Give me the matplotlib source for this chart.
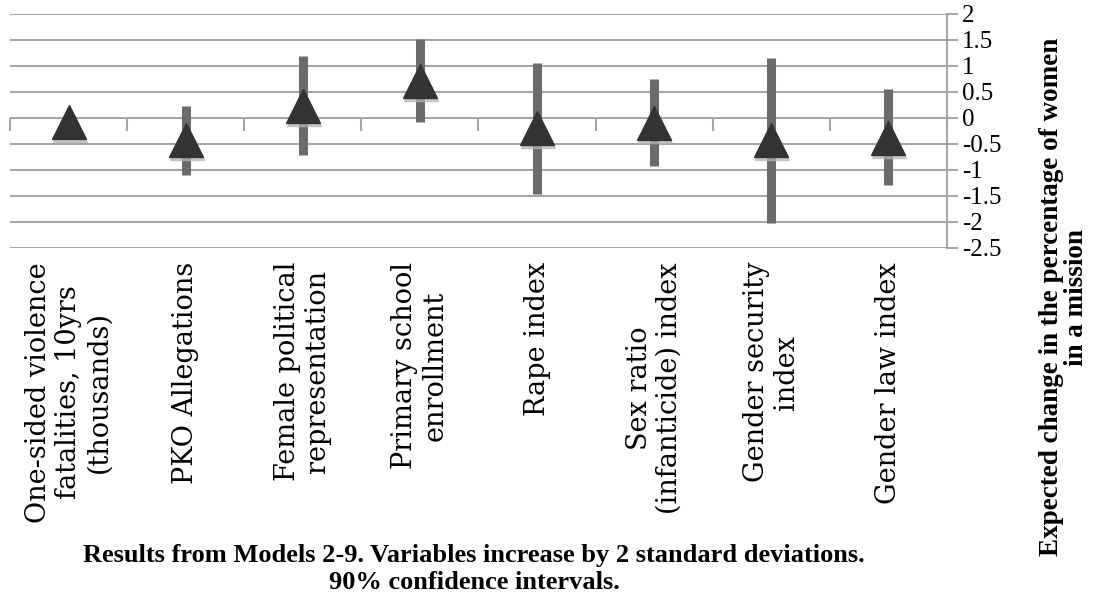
import numpy as np
import matplotlib.pyplot as plt
from matplotlib.transforms import blended_transform_factory, offset_copy

categories = [
    "One-sided violence\nfatalities, 10yrs\n(thousands)",
    "PKO Allegations",
    "Female political\nrepresentation",
    "Primary school\nenrollment",
    "Rape index",
    "Sex ratio\n(infanticide) index",
    "Gender security\nindex",
    "Gender law index",
]
estimate = [-0.08, -0.43, 0.24, 0.72, -0.20, -0.09, -0.43, -0.375]
ci_low = [np.nan, -1.10, -0.71, -0.07, -1.46, -0.92, -2.02, -1.29]
ci_high = [np.nan, 0.23, 1.19, 1.52, 1.05, 0.75, 1.16, 0.56]
yticks = [2, 1.5, 1, 0.5, 0, -0.5, -1, -1.5, -2, -2.5]
ytick_labels = ["2", "1.5", "1", "0.5", "0", "-0.5", "-1", "-1.5", "-2", "-2.5"]

grid_color = "#a6a6a6"

fig = plt.figure(figsize=(10.94, 6.04), dpi=100)
ax = fig.add_axes([10 / 1094, 1 - 248 / 604, 937 / 1094, 234 / 604])

x = np.arange(len(categories))
ax.vlines(x, ci_low, ci_high, color="#6b6b6b", lw=6.5, zorder=3)
# soft shadow under the markers
shadow = offset_copy(ax.transData, fig=fig, x=1, y=-3, units="dots")
ax.plot(x, estimate, "^", ms=25, color="#b4b4b4", alpha=0.7, ls="none",
        transform=shadow, zorder=3.5)
ax.plot(x, estimate, "^", ms=24, color="#333333", ls="none", zorder=4)

ax.set_xlim(-0.5, len(categories) - 0.5)
ax.set_ylim(-2.5, 2)

# horizontal gridlines, values on the right
ax.set_yticks(yticks)
ax.set_yticklabels(ytick_labels, fontfamily="Liberation Serif", fontsize=18)
ax.yaxis.tick_right()
ax.tick_params(axis="y", length=8, width=1.5, color=grid_color, pad=3)
ax.grid(axis="y", color=grid_color, lw=1.5, zorder=0)

# category axis sits on zero, ticks between categories
ax.spines["bottom"].set_position(("data", 0))
ax.spines["bottom"].set_visible(False)
ax.set_xticks(np.arange(len(categories) + 1) - 0.5)
ax.set_xticklabels([])
ax.tick_params(axis="x", direction="out", length=9, width=1.5, color=grid_color)

for s in ["top", "left"]:
    ax.spines[s].set_visible(False)
ax.spines["right"].set_color(grid_color)
ax.spines["right"].set_linewidth(1.5)

trans = blended_transform_factory(ax.transData, ax.transAxes)
for i, lab in enumerate(categories):
    ax.text(i, -0.06, lab, transform=trans, rotation=90, ha="center", va="top",
            multialignment="center", fontfamily="DejaVu Serif", fontsize=19.5,
            linespacing=1.15)

fig.text(1064 / 1094, 0.508,
         "Expected change in the percentage of women\nin a mission",
         rotation=90, ha="center", va="center", fontfamily="Liberation Serif",
         fontweight="bold", fontsize=19.5, linespacing=0.95)

fig.text(474 / 1094, 0.058,
         "Results from Models 2-9. Variables increase by 2 standard deviations.\n"
         "90% confidence intervals.",
         ha="center", va="center", fontfamily="Liberation Serif",
         fontweight="bold", fontsize=19, linespacing=1.2)

fig.savefig("out.png", dpi=100)
